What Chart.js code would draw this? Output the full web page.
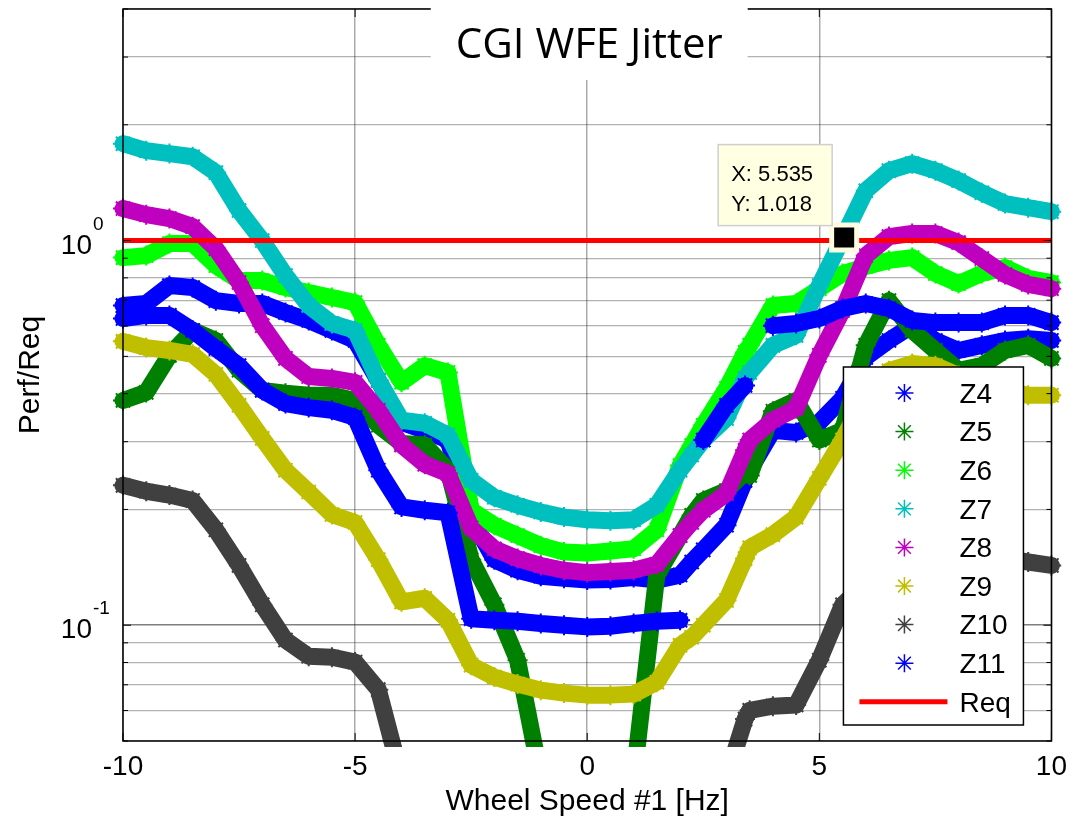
<!DOCTYPE html>
<html>
<head>
<meta charset="utf-8">
<title>CGI WFE Jitter</title>
<script src="https://cdn.jsdelivr.net/npm/chart.js@4.4.1/dist/chart.umd.min.js"></script>
<style>
  html, body { margin: 0; padding: 0; background: #fff; }
  canvas { display: block; }
</style>
</head>
<body>
<canvas id="myChart" width="1076" height="820"></canvas>
<script>
// wheel speed samples [Hz]
const speeds = [-10, -9.5, -9, -8.5, -8, -7.5, -7, -6.5, -6, -5.5, -5, -4.5, -4, -3.5, -3, -2.5, -2, -1.5, -1, -0.5,
  0, 0.5, 1, 1.5, 2, 2.25, 2.5, 3, 3.4, 3.5, 4, 4.5, 5, 5.5, 6, 6.5, 7, 7.5, 8, 8.5, 9, 9.5, 10];

// Perf/Req per Zernike term (null = gap / off the bottom of the plot)
const z4 = [0.678, 0.686, 0.764, 0.755, 0.698, 0.686, 0.686, 0.650, 0.620, 0.584, 0.550, 0.433, 0.337, 0.321, 0.303, 0.190, 0.148, 0.139, 0.134, 0.1325,
  0.131, 0.1315, 0.133, 0.131, 0.135, 0.146, 0.157, 0.182, 0.238, 0.253, 0.321, 0.317, 0.337, 0.389, 0.497, 0.550, 0.601, 0.550, 0.518, 0.534, 0.550, 0.556, 0.550];
const z5 = [0.384, 0.403, 0.503, 0.584, 0.550, 0.460, 0.408, 0.401, 0.396, 0.396, 0.384, 0.331, 0.297, 0.294, 0.253, 0.148, 0.113, 0.0811, 0.04, null,
  null, null, 0.04, 0.135, 0.171, 0.193, 0.211, 0.224, 0.250, 0.245, 0.360, 0.384, 0.303, 0.321, 0.534, 0.698, 0.584, 0.518, 0.460, 0.473, 0.518, 0.534, 0.494];
const z6 = [0.903, 0.914, 0.982, 0.982, 0.861, 0.787, 0.787, 0.755, 0.733, 0.711, 0.690, 0.534, 0.428, 0.473, 0.454, 0.199, 0.182, 0.171, 0.161, 0.155,
  0.154, 0.156, 0.158, 0.177, 0.260, 0.293, 0.331, 0.413, 0.512, 0.534, 0.678, 0.686, 0.750, 0.821, 0.856, 0.888, 0.903, 0.821, 0.773, 0.821, 0.851, 0.797, 0.778];
const z7 = [1.786, 1.713, 1.683, 1.652, 1.502, 1.197, 1.0, 0.811, 0.678, 0.609, 0.584, 0.433, 0.341, 0.335, 0.312, 0.238, 0.215, 0.205, 0.197, 0.191,
  0.188, 0.187, 0.188, 0.205, 0.253, 0.277, 0.303, 0.345, 0.438, 0.454, 0.534, 0.567, 0.764, 1.012, 1.348, 1.520, 1.585, 1.520, 1.432, 1.332, 1.248, 1.218, 1.189];
const z8 = [1.211, 1.168, 1.141, 1.087, 0.953, 0.778, 0.601, 0.494, 0.443, 0.438, 0.428, 0.362, 0.294, 0.262, 0.248, 0.179, 0.158, 0.149, 0.143, 0.139,
  0.137, 0.138, 0.139, 0.144, 0.171, 0.185, 0.199, 0.220, 0.285, 0.303, 0.341, 0.366, 0.503, 0.658, 0.914, 1.024, 1.043, 1.043, 0.988, 0.898, 0.816, 0.769, 0.750];
const z9 = [0.547, 0.527, 0.518, 0.506, 0.449, 0.373, 0.306, 0.253, 0.222, 0.194, 0.185, 0.148, 0.115, 0.1175, 0.103, 0.0787, 0.0733, 0.0703, 0.0678, 0.0666,
  0.0658, 0.0658, 0.0662, 0.0711, 0.0887, 0.093, 0.100, 0.116, 0.149, 0.159, 0.172, 0.191, 0.241, 0.303, 0.396, 0.459, 0.479, 0.473, 0.446, 0.420, 0.408, 0.396, 0.396];
const z10 = [0.231, 0.223, 0.218, 0.211, 0.177, 0.143, 0.113, 0.0915, 0.0830, 0.0826, 0.0802, 0.068, 0.04, null, null, null, null, null, null, null,
  null, null, null, null, null, null, null, 0.04, 0.057, 0.0601, 0.0616, 0.0620, 0.0811, 0.113, 0.129, 0.139, 0.148, 0.152, 0.154, 0.152, 0.149, 0.146, 0.143];
const z11 = [0.627, 0.639, 0.639, 0.584, 0.524, 0.473, 0.408, 0.377, 0.368, 0.362, 0.347, 0.253, 0.203, 0.199, 0.196, 0.104, 0.103, 0.1024, 0.101, 0.100,
  0.099, 0.0994, 0.101, 0.1024, 0.103, null, 0.303, 0.373, 0.420, null, 0.601, 0.609, 0.627, 0.666, 0.686, 0.666, 0.620, 0.612, 0.612, 0.612, 0.639, 0.639, 0.612];

const seriesNames = ['Z4', 'Z5', 'Z6', 'Z7', 'Z8', 'Z9', 'Z10', 'Z11'];
const seriesValues = [z4, z5, z6, z7, z8, z9, z10, z11];
const seriesColors = ['#0000ff', '#008000', '#00ff00', '#00bfbf', '#bf00bf', '#bfbf00', '#404040', '#0000ff'];

const reqLevel = 1;
const tipX = 5.535;
const tipY = 1.018;

const yGridValues = [0.05, 0.06, 0.07, 0.08, 0.09, 0.1, 0.2, 0.3, 0.4, 0.5, 0.6, 0.7, 0.8, 0.9, 1, 2, 3, 4];
const xTickValues = [-10, -5, 0, 5, 10];

const AXIS_FONT = '"Liberation Sans", Arial, sans-serif';
Chart.defaults.font.family = AXIS_FONT;
Chart.defaults.color = '#000';

const isDecade = v => Math.abs(Math.log10(v) - Math.round(Math.log10(v))) < 1e-9;

function star(ctx, x, y, r) {
  ctx.beginPath();
  for (let k = 0; k < 4; k++) {
    const a = k * Math.PI / 4;
    ctx.moveTo(x - r * Math.cos(a), y - r * Math.sin(a));
    ctx.lineTo(x + r * Math.cos(a), y + r * Math.sin(a));
  }
  ctx.stroke();
}

// box, y labels with superscripts, legend, data tip and the title block
const matlabBits = {
  id: 'matlabBits',
  afterDatasetsDraw(chart) {
    const {ctx, chartArea: a, scales: {x, y}} = chart;
    ctx.save();

    // axes box + inner ticks
    ctx.strokeStyle = '#000';
    ctx.lineWidth = 1.5;
    ctx.strokeRect(a.left, a.top, a.right - a.left, a.bottom - a.top);
    ctx.lineWidth = 1;
    ctx.beginPath();
    yGridValues.forEach(v => {
      const py = y.getPixelForValue(v);
      const len = isDecade(v) ? 8 : 5;
      ctx.moveTo(a.left, py); ctx.lineTo(a.left + len, py);
      ctx.moveTo(a.right - len, py); ctx.lineTo(a.right, py);
    });
    xTickValues.forEach(v => {
      const px = x.getPixelForValue(v);
      ctx.moveTo(px, a.bottom); ctx.lineTo(px, a.bottom - 8);
      ctx.moveTo(px, a.top); ctx.lineTo(px, a.top + 8);
    });
    ctx.stroke();

    // y labels 10^n
    ctx.fillStyle = '#000';
    yGridValues.filter(isDecade).forEach(v => {
      const py = y.getPixelForValue(v);
      const e = Math.round(Math.log10(v));
      ctx.font = '28px ' + AXIS_FONT;
      ctx.textAlign = 'right';
      ctx.textBaseline = 'alphabetic';
      ctx.fillText('10', a.left - 31, py + 13);
      ctx.font = '19px ' + AXIS_FONT;
      ctx.textAlign = 'left';
      ctx.fillText(String(e), a.left - 30, py - 11);
    });

    // legend
    const lw = 180, lh = 358;
    const lx = a.right - 28 - lw, ly = a.bottom - 16 - lh;
    ctx.fillStyle = '#fff';
    ctx.fillRect(lx, ly, lw, lh);
    ctx.strokeStyle = '#000';
    ctx.lineWidth = 1.5;
    ctx.strokeRect(lx, ly, lw, lh);
    ctx.font = '28px ' + AXIS_FONT;
    ctx.textAlign = 'left';
    ctx.textBaseline = 'middle';
    const labels = seriesNames.concat(['Req']);
    labels.forEach((name, i) => {
      const cy = ly + 26 + i * 38.6;
      if (i < seriesNames.length) {
        ctx.strokeStyle = seriesColors[i];
        ctx.lineWidth = 1.5;
        star(ctx, lx + 61, cy, 9);
      } else {
        ctx.strokeStyle = '#ff0000';
        ctx.lineWidth = 5;
        ctx.beginPath();
        ctx.moveTo(lx + 16, cy); ctx.lineTo(lx + 104, cy);
        ctx.stroke();
      }
      ctx.fillStyle = '#000';
      ctx.fillText(name, lx + 116, cy + 2);
    });

    // data tip
    const mx = x.getPixelForValue(tipX), my = y.getPixelForValue(tipY);
    const bw = 114, bh = 81;
    const bx = mx - 12 - bw, by = my - 12 - bh;
    ctx.fillStyle = '#ffffe1';
    ctx.fillRect(bx, by, bw, bh);
    ctx.strokeStyle = '#cfcfcf';
    ctx.lineWidth = 1.5;
    ctx.strokeRect(bx, by, bw, bh);
    ctx.fillStyle = '#000';
    ctx.font = '22px ' + AXIS_FONT;
    ctx.textBaseline = 'alphabetic';
    ctx.fillText('X: ' + tipX.toFixed(3), bx + 13, by + 36);
    ctx.fillText('Y: ' + tipY.toFixed(3), bx + 13, by + 66);

    // title on a white block over the top of the axes
    const title = 'CGI WFE Jitter';
    ctx.font = '42px "Open Sans", sans-serif';
    const tw = ctx.measureText(title).width;
    const cx = (a.left + a.right) / 2 + 2;
    ctx.fillStyle = '#fff';
    ctx.fillRect(cx - tw / 2 - 25, 0, tw + 50, 80);
    ctx.fillStyle = '#000';
    ctx.textAlign = 'center';
    ctx.fillText(title, cx, 58);

    ctx.restore();
  }
};

const datasets = seriesNames.map((name, i) => ({
  label: name,
  data: speeds.map((s, k) => ({x: s, y: seriesValues[i][k]})),
  borderColor: seriesColors[i],
  backgroundColor: seriesColors[i],
  borderWidth: 17,
  borderJoinStyle: 'round',
  borderCapStyle: 'round',
  pointStyle: 'star',
  pointRadius: 10,
  pointBorderWidth: 2,
  pointBorderColor: seriesColors[i],
  spanGaps: false,
  clip: {left: 10, right: 10, top: 0, bottom: 6},
  order: 20 - i
}));

datasets.push({
  label: 'Req',
  data: [{x: -10, y: reqLevel}, {x: 10, y: reqLevel}],
  borderColor: '#ff0000',
  borderWidth: 5,
  pointRadius: 0,
  clip: 0,
  order: 1
});

datasets.push({
  label: 'tip',
  data: [{x: tipX, y: tipY}],
  showLine: false,
  pointStyle: 'rect',
  pointRadius: 17.7,
  pointBackgroundColor: '#000',
  pointBorderColor: '#fffbe0',
  pointBorderWidth: 5,
  clip: false,
  order: 0
});

const config = {
  type: 'line',
  data: { datasets },
  options: {
    responsive: false,
    animation: false,
    devicePixelRatio: 1,
    layout: { autoPadding: false, padding: { top: 9, right: 24, left: 0, bottom: 0 } },
    plugins: {
      legend: { display: false },
      title: { display: false },
      tooltip: { enabled: false }
    },
    scales: {
      x: {
        type: 'linear',
        min: -10,
        max: 10,
        afterFit: s => { s.height = 79; },
        border: { display: false },
        grid: { color: 'rgba(0,0,0,0.33)', lineWidth: 1.5, drawTicks: false },
        ticks: { stepSize: 5, padding: 9, maxRotation: 0, autoSkip: false, font: { size: 28 }, color: '#000' },
        title: { display: true, text: 'Wheel Speed #1 [Hz]', font: { size: 30 }, color: '#000', padding: { top: 0, bottom: 0 } }
      },
      y: {
        type: 'logarithmic',
        min: 0.05,
        max: 4,
        afterBuildTicks: s => { s.ticks = yGridValues.map(v => ({ value: v })); },
        afterFit: s => { s.width = 123; },
        border: { display: false },
        grid: {
          drawTicks: false,
          color: c => (c.tick && isDecade(c.tick.value)) ? 'rgba(0,0,0,0.5)' : 'rgba(0,0,0,0.3)',
          lineWidth: c => (c.tick && isDecade(c.tick.value)) ? 1.6 : 1.3
        },
        ticks: { display: false },
        title: { display: true, text: 'Perf/Req', font: { size: 30 }, color: '#000', padding: { top: 13, bottom: 0 } }
      }
    }
  },
  plugins: [matlabBits]
};

const myChart = new Chart(document.getElementById('myChart'), config);
</script>
</body>
</html>
